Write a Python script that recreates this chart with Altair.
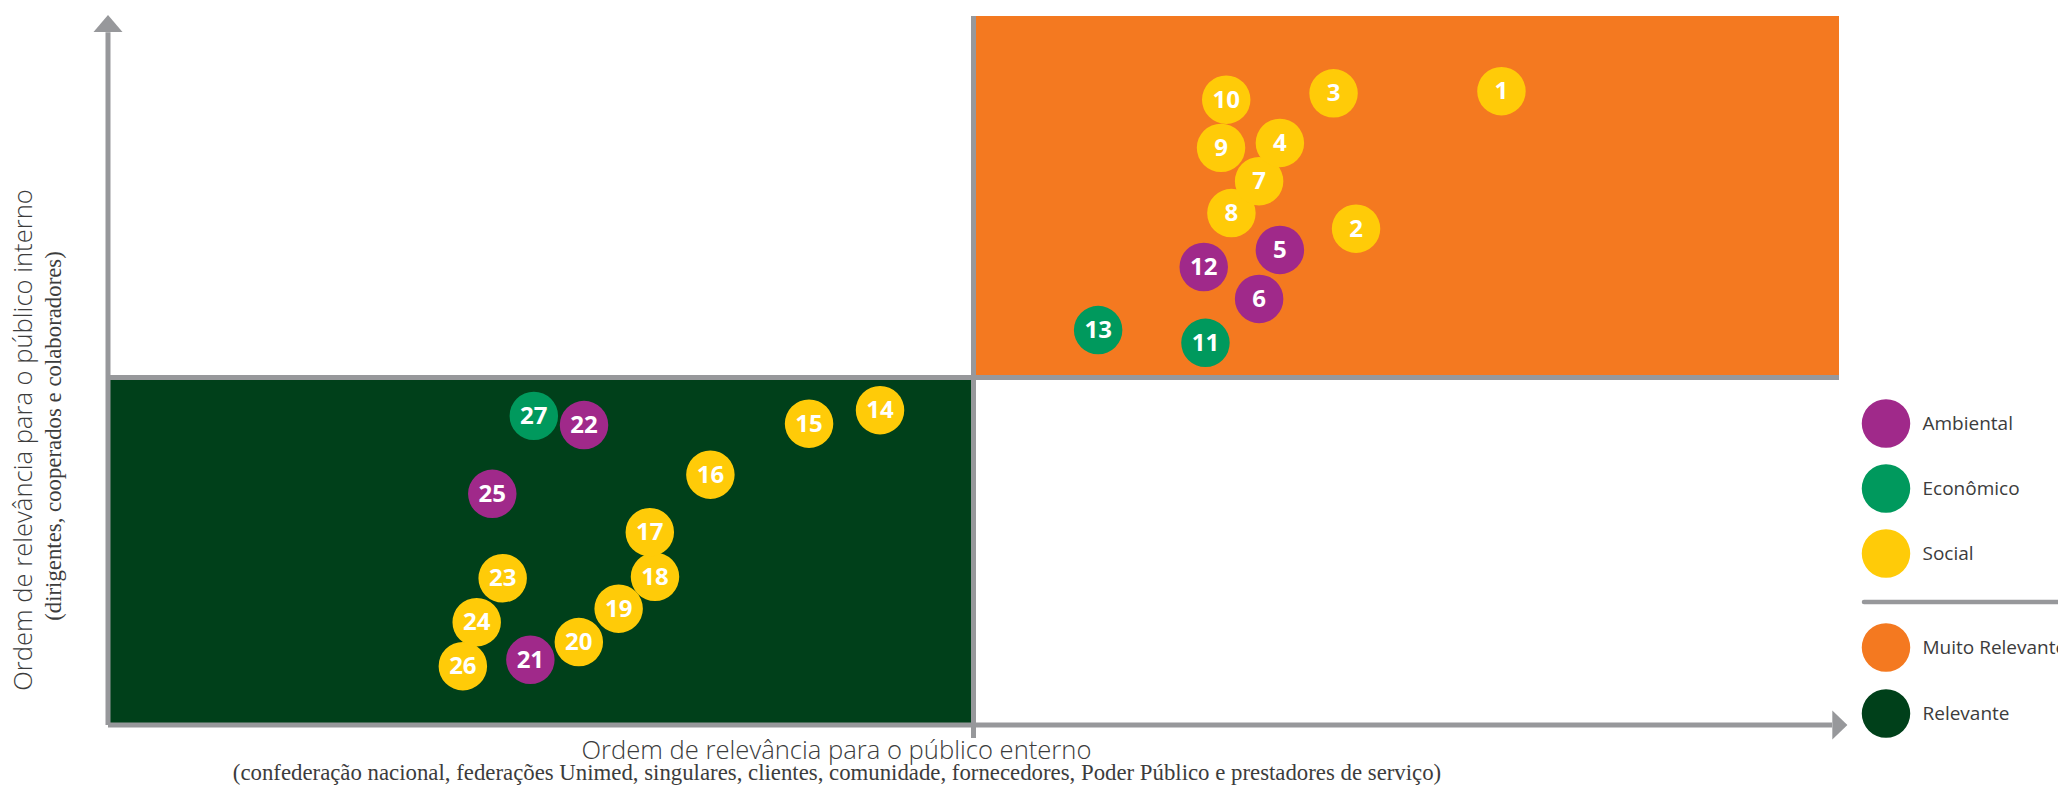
import altair as alt
import pandas as pd

# ---------------- data ----------------
ids = list(range(1, 28))
x_vals = [80.5, 72.1, 70.8, 67.7, 67.7, 66.5, 66.5, 64.9, 64.3, 64.6, 63.4, 63.3, 57.2,
          44.6, 40.5, 34.8, 31.3, 31.6, 29.5, 27.2, 24.4, 27.5, 22.8, 21.3, 22.2, 20.5, 24.6]
y_vals = [89.4, 70.0, 89.1, 82.1, 67.0, 60.1, 76.7, 72.2, 81.4, 88.2, 53.9, 64.6, 55.7,
          44.4, 42.5, 35.3, 27.2, 20.9, 16.4, 11.7, 9.2, 42.3, 20.7, 14.5, 32.6, 8.3, 43.6]
cats = ["Social", "Social", "Social", "Social", "Ambiental", "Ambiental", "Social", "Social",
        "Social", "Social", "Econômico", "Ambiental", "Econômico", "Social", "Social", "Social",
        "Social", "Social", "Social", "Social", "Ambiental", "Ambiental", "Social", "Social",
        "Ambiental", "Social", "Econômico"]

cat_domain = ["Ambiental", "Econômico", "Social"]
cat_colors = ["#A0298A", "#00995D", "#FFCB08"]

zone_names = ["Muito Relevante", "Relevante"]
zone_colors = ["#F47920", "#00401A"]
zone_x = [50, 0]
zone_x2 = [100, 50]
zone_y = [49, 0]
zone_y2 = [100, 49]

mid_x = 50
mid_y = 49

x_title = "Ordem de relevância para o público enterno"
x_sub = "(confederação nacional, federações Unimed, singulares, clientes, comunidade, fornecedores, Poder Público e prestadores de serviço)"
y_title = "Ordem de relevância para o público interno"
y_sub = "(dirigentes, cooperados e colaboradores)"

GRAY = "#97989B"
TXT = "#3C3C3C"

W, H = 1731, 709

pts = pd.DataFrame({"id": ids, "x": x_vals, "y": y_vals, "cat": cats})
zones = pd.DataFrame({"zone": zone_names, "x": zone_x, "x2": zone_x2, "y": zone_y, "y2": zone_y2})
lines = pd.DataFrame({
    "x": [0, mid_x, 0, 0],
    "x2": [100, mid_x, 0, 99.6],
    "y": [mid_y, -1.85, 0, 0],
    "y2": [mid_y, 100, 97.7, 0],
})
arrows = pd.DataFrame({
    "x": [0, 100.05],
    "y": [98.95, 0],
    "shape": ["M-1,0.586L0,-0.586L1,0.586Z", "M-0.52,-1L0.52,0L-0.52,1Z"],
})

xs = alt.Scale(domain=[0, 100], nice=False, zero=False)
ys = alt.Scale(domain=[0, 100], nice=False, zero=False)

LEG_X = 1753.5

rects = alt.Chart(zones).mark_rect().encode(
    x=alt.X("x:Q", scale=xs, axis=None),
    x2="x2:Q",
    y=alt.Y("y:Q", scale=ys, axis=None),
    y2="y2:Q",
    fill=alt.Fill("zone:N", scale=alt.Scale(domain=zone_names, range=zone_colors),
                  legend=alt.Legend(title=None, orient="none", legendX=LEG_X, legendY=607,
                                    symbolType="circle", symbolSize=2350, symbolStrokeWidth=0,
                                    labelFont="Open Sans", labelFontSize=19, labelColor=TXT,
                                    labelOffset=12, rowPadding=17, padding=0)),
)

rules = alt.Chart(lines).mark_rule(color=GRAY, strokeWidth=5).encode(
    x=alt.X("x:Q", scale=xs), x2="x2:Q",
    y=alt.Y("y:Q", scale=ys), y2="y2:Q",
)

heads = alt.Chart(arrows).mark_point(filled=True, color=GRAY, opacity=1, size=841, strokeWidth=0).encode(
    x=alt.X("x:Q", scale=xs), y=alt.Y("y:Q", scale=ys),
    shape=alt.Shape("shape:N", scale=None),
)

circles = alt.Chart(pts).mark_circle(size=2350, opacity=1).encode(
    x=alt.X("x:Q", scale=xs), y=alt.Y("y:Q", scale=ys),
    color=alt.Color("cat:N", scale=alt.Scale(domain=cat_domain, range=cat_colors),
                    legend=alt.Legend(title=None, orient="none", legendX=LEG_X, legendY=383,
                                      symbolType="circle", symbolSize=2350, symbolStrokeWidth=0,
                                      symbolOpacity=1,
                                      labelFont="Open Sans", labelFontSize=19, labelColor=TXT,
                                      labelOffset=12, rowPadding=16, padding=0)),
    order=alt.Order("id:Q", sort="descending"),
)

labels = alt.Chart(pts).mark_text(color="white", font="Open Sans", fontSize=24,
                                  fontWeight="bold", baseline="middle", align="center", dy=1).encode(
    x=alt.X("x:Q", scale=xs), y=alt.Y("y:Q", scale=ys), text="id:N",
)

anno = pd.DataFrame({"t": [0]})
sep = alt.Chart(anno).mark_rule(color=GRAY, strokeWidth=4.5, strokeCap="round").encode(
    x=alt.value(1756), x2=alt.value(1990), y=alt.value(586),
)

xt = alt.Chart(anno).mark_text(font="Open Sans", fontWeight=300, fontSize=25.6, color=TXT,
                               align="center", baseline="alphabetic").encode(
    x=alt.value(728.5), y=alt.value(743), text=alt.value(x_title))
xst = alt.Chart(anno).mark_text(font="Liberation Serif", fontSize=22.8, color=TXT,
                                align="center", baseline="alphabetic").encode(
    x=alt.value(729), y=alt.value(764), text=alt.value(x_sub))
yt = alt.Chart(anno).mark_text(font="Open Sans", fontWeight=300, fontSize=25.6, color=TXT,
                               align="center", baseline="middle", angle=270).encode(
    x=alt.value(-84), y=alt.value(424), text=alt.value(y_title))
yst = alt.Chart(anno).mark_text(font="Liberation Serif", fontSize=22.8, color=TXT,
                                align="center", baseline="middle", angle=270).encode(
    x=alt.value(-54), y=alt.value(420), text=alt.value(y_sub))

chart = alt.layer(rects, rules, heads, circles, labels, sep, xt, xst, yt, yst).resolve_scale(
    color="independent"
).properties(
    width=W, height=H,
    background="white",
    autosize=alt.AutoSizeParams(type="none"),
    padding={"left": 100, "top": 8, "right": 219, "bottom": 64},
).configure_view(stroke=None, strokeWidth=0)

chart.save("out.html", embed_options={"renderer": "svg", "actions": False})
